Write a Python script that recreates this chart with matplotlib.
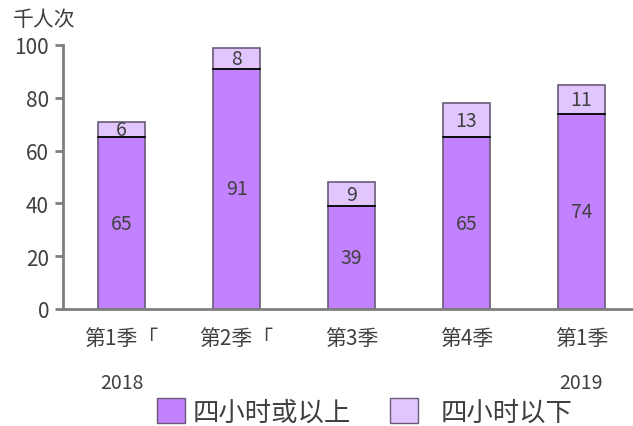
import matplotlib
matplotlib.use("Agg")
import matplotlib.pyplot as plt
from matplotlib.patches import Patch

plt.rcParams['font.family'] = ['Noto Sans CJK SC', 'DejaVu Sans']

categories = ['第1季「', '第2季「', '第3季', '第4季', '第1季']
years = ['2018', '', '', '', '2019']
four_plus = [65, 91, 39, 65, 74]
under_four = [6, 8, 9, 13, 11]
series_names = ['四小时或以上', '四小时以下']
yticks = [0, 20, 40, 60, 80, 100]

c_dark = '#C382FD'
c_light = '#E1C6FE'
edge = '#6a5a78'
txt = '#404040'

fig = plt.figure(figsize=(6.33, 4.27), dpi=100)
ax = fig.add_axes([63/633, 1-310/427, 570/633, 264/427])

x = list(range(len(categories)))
w = 0.41
ax.bar(x, four_plus, width=w, color=c_dark, edgecolor=edge, linewidth=1.2, zorder=2)
ax.bar(x, under_four, width=w, bottom=four_plus, color=c_light, edgecolor=edge, linewidth=1.2, zorder=2)
for i in x:
    ax.plot([i - w/2, i + w/2], [four_plus[i]] * 2, color='black', lw=1.2, zorder=3)
    ax.text(i, four_plus[i] / 2, str(four_plus[i]), ha='center', va='center', fontsize=14,
            color=txt, zorder=4, fontweight='light')
    ax.text(i, four_plus[i] + under_four[i] / 2, str(under_four[i]), ha='center', va='center',
            fontsize=14, color=txt, zorder=4, fontweight='light')

ax.set_ylim(0, 100)
ax.set_xlim(-0.51, 4.45)
ax.set_yticks(yticks)
ax.set_yticklabels([str(t) for t in yticks], fontsize=15, color=txt)
ax.set_xticks(x)
ax.set_xticklabels(categories, fontsize=15, color=txt, fontweight='light')
ax.tick_params(axis='x', length=0, pad=13)
ax.tick_params(axis='y', length=6, width=2, color='#7f7f7f', pad=4)
for s in ['top', 'right']:
    ax.spines[s].set_visible(False)
for s in ['left', 'bottom']:
    ax.spines[s].set_color('#7f7f7f')
    ax.spines[s].set_linewidth(2)

for i, yr in enumerate(years):
    if yr:
        ax.text(i, -28, yr, ha='center', va='center', fontsize=14, color=txt, fontweight='light')

fig.text(13/633, 1-20/427, '千人次', ha='left', va='center', fontsize=15, color=txt, fontweight='light')

cols = [c_dark, c_light]
anchors = [157/633, 390/633]
pads = [0.3, 0.85]
for c, name, a, p in zip(cols, series_names, anchors, pads):
    leg = fig.legend([Patch(facecolor=c, edgecolor=edge)], [name], loc='center left',
                     bbox_to_anchor=(a, 1-413/427), frameon=False, fontsize=19,
                     handlelength=1.05, handleheight=1.05, labelcolor=txt,
                     handletextpad=p, borderpad=0, borderaxespad=0)
    for t in leg.get_texts():
        t.set_fontweight('light')

fig.savefig('out.png', dpi=100)
